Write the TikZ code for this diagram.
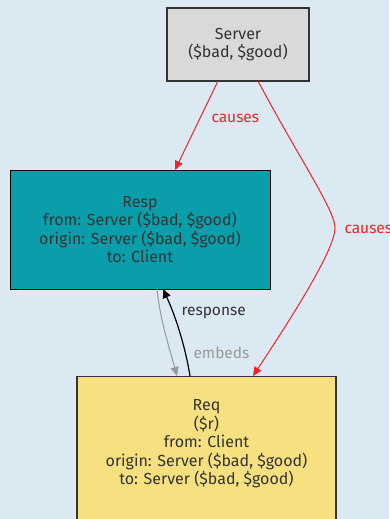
\documentclass[tikz,border=0pt]{standalone}
\usepackage{fontspec}
\setmainfont{Fira Sans}
\usetikzlibrary{arrows.meta}
\definecolor{bg}{HTML}{DBE9F2}
\definecolor{srvfill}{HTML}{D9D9D9}
\definecolor{respfill}{HTML}{0A9EAA}
\definecolor{reqfill}{HTML}{F6E07F}
\definecolor{edgered}{HTML}{E8262A}
\definecolor{txt}{HTML}{333333}
\definecolor{embgray}{HTML}{999999}
\begin{document}
\begin{tikzpicture}[x=1pt,y=-1pt,
  box/.style={draw=txt,line width=1.2pt,align=center,text=txt,font=\fontsize{16}{18.5}\selectfont,inner sep=0pt},
  btxt/.style={align=center,text=txt,font=\fontsize{16}{18.5}\selectfont,inner sep=0pt},
  lbl/.style={font=\fontsize{15.5}{17}\selectfont},
  tip/.style={-{Triangle[length=9pt,width=8pt]}},
]
\fill[bg] (0,0) rectangle (389,519);
\useasboundingbox (0,0) rectangle (389,519);
\begin{scope}
\clip (0,0) rectangle (389,519);
\node[box,fill=srvfill,line width=1.6pt,minimum width=142,minimum height=73] (srv) at (238,44.5) {Server\\(\$bad, \$good)};
\node[box,fill=respfill,draw=black,line width=1pt,minimum width=260,minimum height=119] (resp) at (140,229.5) {Resp\\from: Server (\$bad, \$good)\\origin: Server (\$bad, \$good)\\to: Client};
\node[box,fill=reqfill,minimum width=259,minimum height=160,anchor=north] (req) at (206.5,376) {};
\node[btxt] (reqt) at (206.5,444) {Req\\(\$r)\\from: Client\\origin: Server (\$bad, \$good)\\to: Server (\$bad, \$good)};
\end{scope}
\coordinate (a1) at (218,81);
\coordinate (a2) at (175,170);
\draw[edgered,line width=1pt,tip] (a1) -- (a2);
\node[lbl,text=edgered,anchor=west] (l1) at (208,118) {causes};
\coordinate (b1) at (258,81);
\coordinate (b2) at (253,376);
\draw[edgered,line width=1pt,tip] (b1) .. controls (300,160) and (335,210) .. (335,228) .. controls (335,250) and (290,320) .. (b2);
\node[lbl,text=edgered,anchor=west] (l2) at (341,229) {causes};
\coordinate (c1) at (157,289);
\coordinate (c2) at (177,376);
\draw[embgray,line width=1pt,tip] (c1) .. controls (160,320) and (170,350) .. (c2);
\node[lbl,text=embgray,anchor=west] (l3) at (190,353) {embeds};
\coordinate (d1) at (190,376);
\coordinate (d2) at (163,289);
\draw[black,line width=1.2pt,tip] (d1) .. controls (185,345) and (175,315) .. (d2);
\node[lbl,text=txt,anchor=west] (l4) at (178,313) {response};
\end{tikzpicture}
\end{document}
